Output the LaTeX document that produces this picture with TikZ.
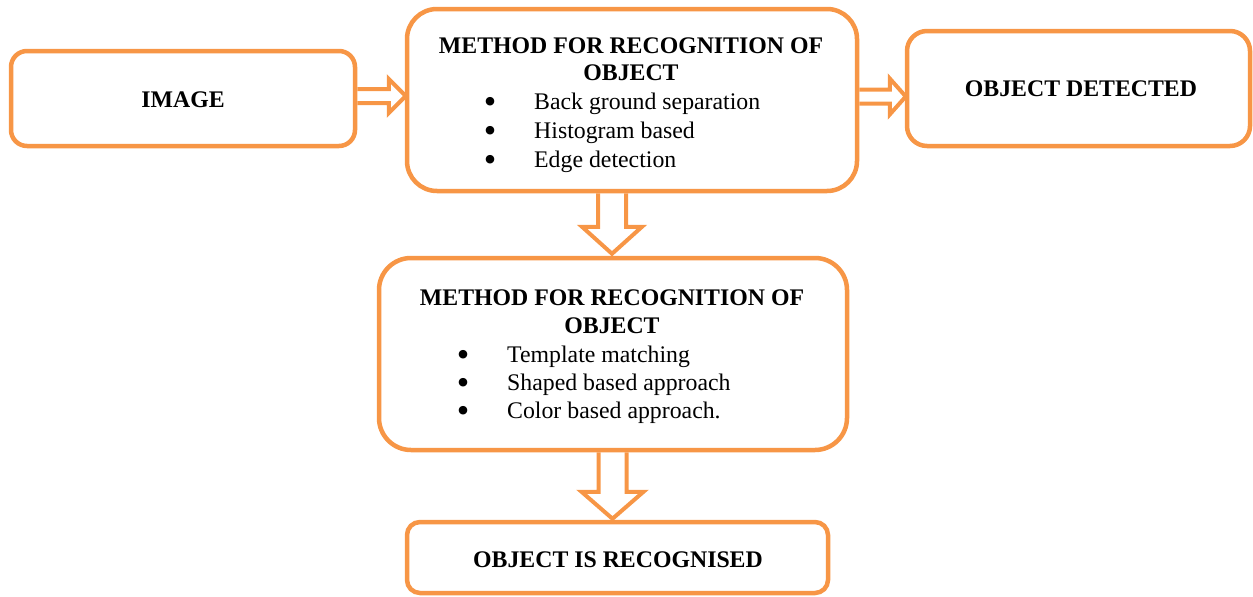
\documentclass[tikz,border=0pt]{standalone}
\usepackage{fontspec}
\setmainfont{Liberation Serif}
\usetikzlibrary{calc}
\definecolor{acc}{HTML}{F79646}
\begin{document}
\begin{tikzpicture}[x=1pt,y=-1pt,
  box/.style={draw=acc, line width=4.5pt, fill=white, inner sep=0pt, anchor=center},
  barrow/.style={draw=acc, line width=4pt, line join=miter},
  ttl/.style={font=\fontsize{23.8}{28.7}\selectfont\bfseries, anchor=base, inner sep=0pt},
  itm/.style={font=\fontsize{23.8}{28.7}\selectfont, anchor=base west, inner sep=0pt},
  bul/.style={font=\fontsize{23.8}{28.7}\selectfont, anchor=center, inner sep=0pt}]
\useasboundingbox (0,0) rectangle (1253,597);

% boxes
\node[box, minimum width=344pt, minimum height=95pt, rounded corners=16pt] (b1) at (183,98.5) {};
\node[box, minimum width=450pt, minimum height=182pt, rounded corners=30pt] (b2) at (632,100) {};
\node[box, minimum width=343pt, minimum height=115pt, rounded corners=20pt] (b3) at (1078.5,88.5) {};
\node[box, minimum width=468pt, minimum height=192pt, rounded corners=32pt] (b4) at (613,354) {};
\node[box, minimum width=421pt, minimum height=71pt, rounded corners=13pt] (b5) at (617.5,557.5) {};

% texts
\node[ttl] (t1) at (183,107) {IMAGE};
\node[ttl] (t2a) at (631,53) {METHOD FOR RECOGNITION OF};
\node[ttl] (t2b) at (631,80) {OBJECT};
\node[bul] (u21) at (490,105) {\scalebox{1.5}{•}};
\node[bul] (u22) at (490,134) {\scalebox{1.5}{•}};
\node[bul] (u23) at (490,163) {\scalebox{1.5}{•}};
\node[itm] (i21) at (534,109) {Back ground separation};
\node[itm] (i22) at (534,138) {Histogram based};
\node[itm] (i23) at (534,167) {Edge detection};
\node[ttl] (t3) at (1081,96) {OBJECT DETECTED};
\node[ttl] (t4a) at (612,305) {METHOD FOR RECOGNITION OF};
\node[ttl] (t4b) at (612,333) {OBJECT};
\node[bul] (u41) at (463,358) {\scalebox{1.5}{•}};
\node[bul] (u42) at (463,386) {\scalebox{1.5}{•}};
\node[bul] (u43) at (463,414) {\scalebox{1.5}{•}};
\node[itm] (i41) at (507,362) {Template matching};
\node[itm] (i42) at (507,390) {Shaped based approach};
\node[itm] (i43) at (507,418) {Color based approach.};
\node[ttl] (t5) at (618,567) {OBJECT IS RECOGNISED};

% block arrows
\coordinate (a1s) at ($(b1.east)+(0,-2.5)$);
\coordinate (a1e) at ($(b2.west)+(1,-4)$);
\draw[barrow] ($(a1s)+(0,-7)$) -- ($(a1e)+(-17,-7)$) -- ($(a1e)+(-17,-17)$) -- (a1e)
  -- ($(a1e)+(-17,17)$) -- ($(a1e)+(-17,7)$) -- ($(a1s)+(0,7)$);

\coordinate (a2s) at ($(b2.east)+(0,-3.5)$);
\coordinate (a2e) at ($(b3.west)+(1,8)$);
\draw[barrow] ($(a2s)+(0,-7)$) -- ($(a2e)+(-16,-7)$) -- ($(a2e)+(-16,-18)$) -- (a2e)
  -- ($(a2e)+(-16,18)$) -- ($(a2e)+(-16,7)$) -- ($(a2s)+(0,7)$);

\coordinate (a3s) at ($(b2.south)+(-20,0)$);
\coordinate (a3e) at ($(b4.north)+(-1,-2)$);
\draw[barrow] ($(a3s)+(-14,0)$) -- ($(a3e)+(-14,-27)$) -- ($(a3e)+(-30,-27)$) -- (a3e)
  -- ($(a3e)+(30,-27)$) -- ($(a3e)+(14,-27)$) -- ($(a3s)+(14,0)$);

\coordinate (a4s) at ($(b4.south)+(-0.5,0)$);
\coordinate (a4e) at ($(b5.north)+(-5,-1)$);
\draw[barrow] ($(a4s)+(-14,0)$) -- ($(a4e)+(-14,-27)$) -- ($(a4e)+(-31,-27)$) -- (a4e)
  -- ($(a4e)+(31,-27)$) -- ($(a4e)+(14,-27)$) -- ($(a4s)+(14,0)$);
\end{tikzpicture}
\end{document}
